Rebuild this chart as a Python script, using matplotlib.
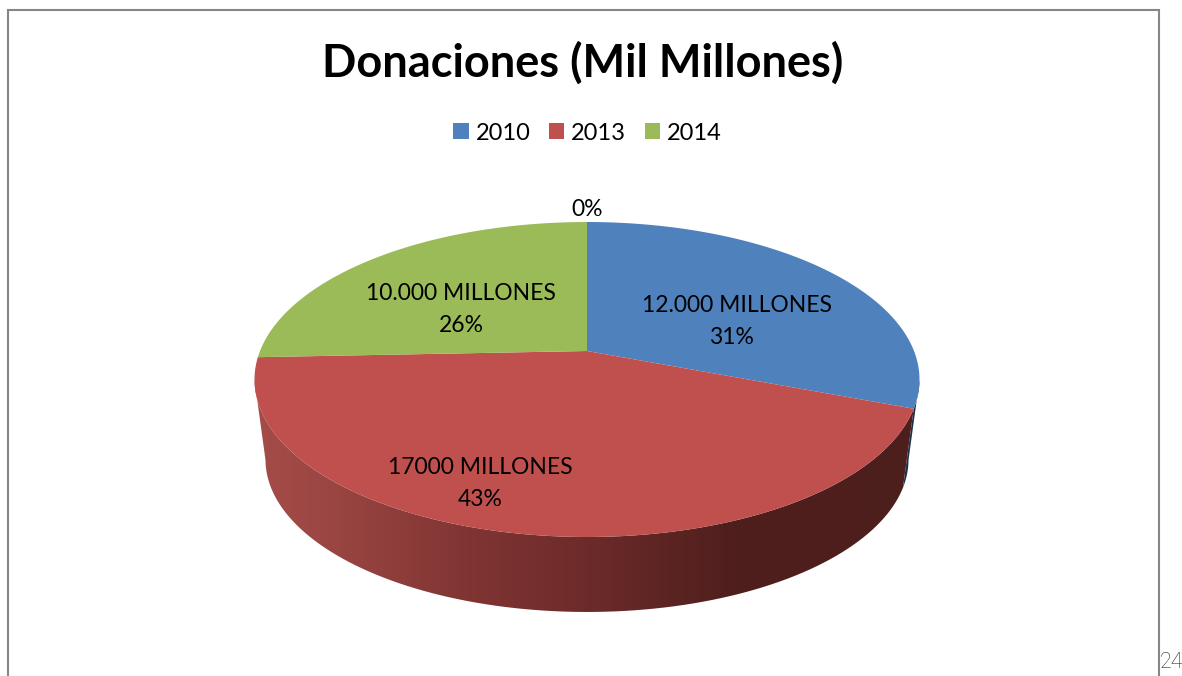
import numpy as np
import matplotlib
matplotlib.use("Agg")
import matplotlib.pyplot as plt
from matplotlib.patches import Polygon, Rectangle, PathPatch
from matplotlib.colors import LinearSegmentedColormap
from matplotlib.path import Path
from matplotlib.lines import Line2D

plt.rcParams['font.family'] = ['Lato', 'DejaVu Sans']

# Data
years = ['2010', '2013', '2014']
donations = [12000, 17000, 10000]
amount_labels = ['12.000 MILLONES', '17000 MILLONES', '10.000 MILLONES']
pct_labels = ['31%', '43%', '26%']
zero_label = '0%'
title = 'Donaciones (Mil Millones)'
colors = ['#4F81BD', '#C0504D', '#9BBB59']

W, H = 1182, 676
fig = plt.figure(figsize=(W / 100, H / 100), dpi=100)
ax = fig.add_axes([0, 0, 1, 1])
ax.set_xlim(0, W)
ax.set_ylim(H, 0)
ax.axis('off')

# frame
ax.add_line(Line2D([7.5, 7.5, 1159, 1159], [676, 10, 10, 676], color='#868686', lw=1.5,
                   solid_joinstyle='miter'))

# perspective projection of the disc
CX, AY, RX, PA, PC = 587.0, 351.0, 327.0, -88.8, 0.181


def top(theta):
    u, v = np.sin(theta), np.cos(theta)
    d = 1 + PC * v
    return CX + RX * u / d, (PA * v + AY) / d


def bottom(theta):
    x, y = top(theta)
    return CX + (x - CX) * 0.967, 460 + (y - 380) * 0.968


edges = 2 * np.pi * np.concatenate([[0], np.cumsum(donations)]) / sum(donations)
# angles at which the rim is widest (silhouette of the cylinder)
sil_right, sil_left = np.radians(100.6), np.radians(259.4)


def arc(fn, a, b, n=200):
    return np.column_stack(fn(np.linspace(a, b, n)))


# side wall: red, with a horizontal gradient
red_a = edges[1]
wall = np.vstack([arc(top, red_a, sil_left), arc(bottom, red_a, sil_left)[::-1]])
cmap = LinearSegmentedColormap.from_list(
    'wall',
    [(0.00, '#A54C48'), (0.10, '#9C4744'), (0.30, '#833634'), (0.50, '#6C2B2A'),
     (0.72, '#4F1F1D'), (1.00, '#4C1E1C')])
img = ax.imshow(np.linspace(0, 1, 512)[None, :], cmap=cmap, aspect='auto',
                extent=[252, 922, 676, 0], zorder=2)
clip = PathPatch(Path(wall, closed=False), transform=ax.transData, fc='none', ec='none')
ax.add_patch(clip)
img.set_clip_path(clip)
ax.set_xlim(0, W)
ax.set_ylim(H, 0)

# side wall: thin blue sliver on the right
blue_wall = np.vstack([arc(top, sil_right, red_a), arc(bottom, sil_right, red_a)[::-1]])
ax.add_patch(Polygon(blue_wall, closed=True, fc='#17324F', ec='none', zorder=1.5))

# top faces
for i, c in enumerate(colors):
    pts = np.vstack([[top(0.0)[0], AY], arc(top, edges[i], edges[i + 1])])
    ax.add_patch(Polygon(pts, closed=True, fc=c, ec='none', zorder=3))

# data labels
label_xy = [(737, 305, 731, 337), (480, 467, 480, 499), (461, 293, 461, 325)]
for (xa, ya, xp, yp), a, p in zip(label_xy, amount_labels, pct_labels):
    ax.text(xa, ya, a, ha='center', va='center', fontsize=16.5, color='black', zorder=4)
    ax.text(xp, yp, p, ha='center', va='center', fontsize=16.5, color='black', zorder=4)
ax.text(587, 209, zero_label, ha='center', va='center', fontsize=16.5, color='black', zorder=4)

# title
ax.text(583, 63, title, ha='center', va='center', fontsize=32.5, fontweight='bold', color='black')

# legend
handles = [Rectangle((0, 0), 1, 1, fc=c, ec='none') for c in colors]
ax.legend(handles, years, loc='center', bbox_to_anchor=(587.5 / W, 1 - 133 / H), ncols=3,
          frameon=False, fontsize=17, handlelength=0.64, handleheight=0.64,
          handletextpad=0.3, columnspacing=0.78, borderpad=0)

# page number
ax.text(1160, 663, '24', ha='left', va='center', fontsize=15.5, color='#303030',
        family='Roboto', fontweight='light')

fig.savefig('out.png', dpi=100, facecolor='white')
